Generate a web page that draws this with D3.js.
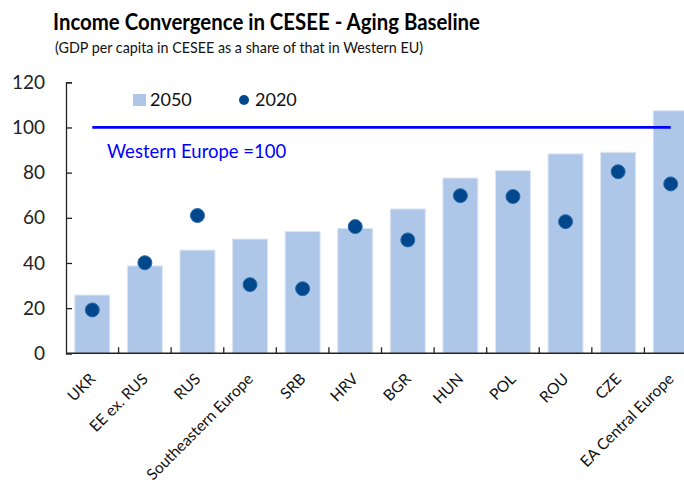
<!DOCTYPE html>
<html>
<head>
<meta charset="utf-8">
<script src="https://cdn.jsdelivr.net/npm/d3@7"></script>
<style>
  body { margin: 0; background: #fff; }
  text { font-family: Lato, "Open Sans", sans-serif; }
</style>
</head>
<body>
<div id="chart"></div>
<script>
(function () {

  // Data
  const categories = ["UKR", "EE ex. RUS", "RUS", "Southeastern Europe", "SRB", "HRV",
                      "BGR", "HUN", "POL", "ROU", "CZE", "EA Central Europe"]
  const values2050 = [25.8, 38.7, 45.7, 50.6, 53.9, 55.3, 63.9, 77.6, 80.9, 88.3, 89.0, 107.4]
  const values2020 = [19.2, 40.1, 61.0, 30.4, 28.6, 56.1, 50.2, 69.8, 69.4, 58.3, 80.4, 75.0]
  const yTicks = [0, 20, 40, 60, 80, 100, 120]
  const benchmark = 100

  const width = 684
  const height = 489
  const plot = { left: 66, right: 697, top: 82.3, bottom: 353.3 }

  const svg = d3.select("#chart").append("svg")
      .attr("width", width)
      .attr("height", height)

  const pad = 0.335
  const x = d3.scaleBand()
    .domain(categories)
    .range([plot.left, plot.right])
    .paddingInner(pad)
    .paddingOuter(pad / 2)

  const y = d3.scaleLinear()
    .domain([0, 120])
    .range([plot.bottom, plot.top])

  const center = d => x(d) + x.bandwidth() / 2

  // Title
  svg.append("text")
    .attr("x", 53)
    .attr("y", 30)
    .attr("font-size", 22)
    .attr("font-weight", "bold")
    .attr("fill", "#000")
    .attr("textLength", 427)
    .attr("lengthAdjust", "spacingAndGlyphs")
    .text("Income Convergence in CESEE - Aging Baseline")

  svg.append("text")
    .attr("x", 55)
    .attr("y", 53)
    .attr("font-size", 16)
    .attr("fill", "#111")
    .attr("textLength", 368)
    .attr("lengthAdjust", "spacingAndGlyphs")
    .text("(GDP per capita in CESEE as a share of that in Western EU)")

  // Bars (2050)
  svg.append("g")
    .selectAll("rect")
    .data(categories)
    .join("rect")
      .attr("x", d => x(d))
      .attr("width", x.bandwidth())
      .attr("y", (d, i) => y(values2050[i]))
      .attr("height", (d, i) => y(0) - y(values2050[i]))
      .attr("fill", "#aec6e8")
      .attr("stroke", "#dbe6f4")
      .attr("stroke-width", 1)

  // Y axis
  const yAxis = svg.append("g")
    .attr("transform", "translate(" + plot.left + ",0)")
    .call(d3.axisRight(y).tickValues(yTicks).tickSize(6).tickFormat(d3.format("d")))
  yAxis.select(".domain").attr("stroke", "#222").attr("stroke-width", 1.3)
  yAxis.selectAll(".tick line").attr("stroke", "#222").attr("stroke-width", 1.3)
  yAxis.selectAll(".tick text")
    .attr("x", -21)
    .attr("text-anchor", "end")
    .attr("font-size", 19)
    .attr("fill", "#222")
    .attr("font-family", "Lato, sans-serif")

  // X axis with ticks between bands
  const step = x.step()
  const bounds = categories.slice(1).map(d => x(d) - step * pad / 2)
  svg.append("line")
    .attr("x1", plot.left).attr("x2", width)
    .attr("y1", y(0)).attr("y2", y(0))
    .attr("stroke", "#222").attr("stroke-width", 1.5)
  svg.append("g")
    .selectAll("line")
    .data(bounds)
    .join("line")
      .attr("x1", d => d).attr("x2", d => d)
      .attr("y1", y(0)).attr("y2", y(0) - 6)
      .attr("stroke", "#222").attr("stroke-width", 1.3)

  svg.append("g")
    .selectAll("text")
    .data(categories)
    .join("text")
      .attr("transform", d => "translate(" + (center(d) + 4) + "," + 380 + ") rotate(-45)")
      .attr("text-anchor", "end")
      .attr("font-size", 15.5)
      .attr("fill", "#111")
      .text(d => d)

  // Benchmark line
  svg.append("line")
    .attr("x1", center(categories[0]))
    .attr("x2", center(categories[categories.length - 1]))
    .attr("y1", y(benchmark)).attr("y2", y(benchmark))
    .attr("stroke", "#0000ff")
    .attr("stroke-width", 2.8)

  svg.append("text")
    .attr("x", 107)
    .attr("y", 158)
    .attr("font-size", 18.5)
    .attr("fill", "#0000ff")
    .text("Western Europe =100")

  // Dots (2020)
  svg.append("g")
    .selectAll("circle")
    .data(categories)
    .join("circle")
      .attr("cx", d => center(d))
      .attr("cy", (d, i) => y(values2020[i]))
      .attr("r", 7)
      .attr("fill", "#00488b")
      .attr("stroke", "#2a6aab")
      .attr("stroke-width", 1)

  // Legend
  const legend = svg.append("g")
  legend.append("rect")
    .attr("x", 133).attr("y", 94)
    .attr("width", 13).attr("height", 12)
    .attr("fill", "#aec6e8")
  legend.append("text")
    .attr("x", 150).attr("y", 106)
    .attr("font-size", 18).attr("fill", "#111")
    .text("2050")
  legend.append("circle")
    .attr("cx", 244).attr("cy", 100)
    .attr("r", 5)
    .attr("fill", "#00488b")
  legend.append("text")
    .attr("x", 255).attr("y", 106)
    .attr("font-size", 18).attr("fill", "#111")
    .text("2020")

})();
</script>
</body>
</html>
